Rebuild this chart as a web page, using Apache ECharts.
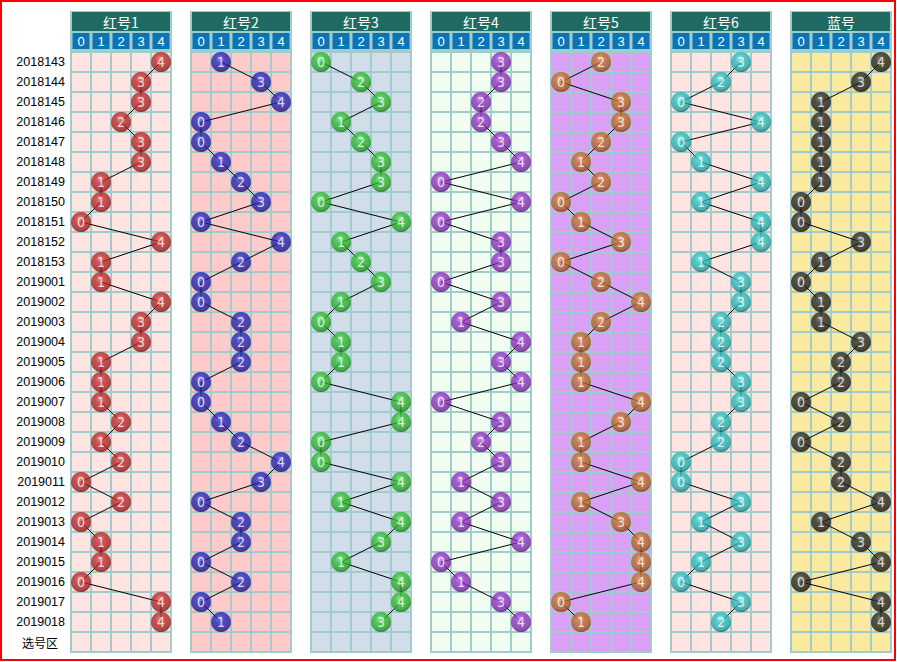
<!DOCTYPE html>
<html>
<head>
<meta charset="utf-8">
<script src="https://cdn.jsdelivr.net/npm/echarts@6/dist/echarts.min.js"></script>
<style>html,body{margin:0;padding:0;background:#fff;}#c{width:897px;height:662px;}</style>
</head>
<body>
<div id="c"></div>
<script>
const rows = ['2018143','2018144','2018145','2018146','2018147','2018148','2018149','2018150','2018151','2018152','2018153',
  '2019001','2019002','2019003','2019004','2019005','2019006','2019007','2019008','2019009','2019010','2019011','2019012',
  '2019013','2019014','2019015','2019016','2019017','2019018','选号区'];
const cols = ['0','1','2','3','4'];
const titles = ['红号1','红号2','红号3','红号4','红号5','红号6','蓝号'];

const red1 = [4,3,3,2,3,3,1,1,0,4,1,1,4,3,3,1,1,1,2,1,2,0,2,0,1,1,0,4,4];
const red2 = [1,3,4,0,0,1,2,3,0,4,2,0,0,2,2,2,0,0,1,2,4,3,0,2,2,0,2,0,1];
const red3 = [0,2,3,1,2,3,3,0,4,1,2,3,1,0,1,1,0,4,4,0,0,4,1,4,3,1,4,4,3];
const red4 = [3,3,2,2,3,4,0,4,0,3,3,0,3,1,4,3,4,0,3,2,3,1,3,1,4,0,1,3,4];
const red5 = [2,0,3,3,2,1,2,0,1,3,0,2,4,2,1,1,1,4,3,1,1,4,1,3,4,4,4,0,1];
const red6 = [3,2,0,4,0,1,4,1,4,4,1,3,3,2,2,2,3,3,2,2,0,0,3,1,3,1,0,3,2];
const blue = [4,3,1,1,1,1,1,0,0,3,1,0,1,1,3,2,2,0,2,0,2,2,4,1,3,4,0,4,4];

const panels = [red1, red2, red3, red4, red5, red6, blue];

const styles = [
  {bg:'#ffe4e1', ball:['#e87070','#c02c2c','#a02020','#6a1010']},
  {bg:'#ffcaca', ball:['#6a6ae8','#2828bc','#1e1e9a','#10105e']},
  {bg:'#d1dde8', ball:['#80ec80','#34c034','#28a028','#146a14']},
  {bg:'#f0fdf0', ball:['#c87ae8','#9232c4','#7a26a6','#4a1268']},
  {bg:'#d9a0f5', ball:['#eaa868','#c4762e','#a66024','#6a3a10']},
  {bg:'#ffe4e1', ball:['#7ae8e8','#2cc0c0','#22a2a2','#106464']},
  {bg:'#fbe9a0', ball:['#6a6a6a','#2a2a2a','#1c1c1c','#080808']}
];
const TEAL = '#a0cccc';
const HEAD = '#1f6b64';
const SUB = '#0a74b4';

const grids = [], xAxes = [], yAxes = [], series = [], graphics = [];
graphics.push({type:'rect', shape:{x:1,y:1,width:894,height:659}, style:{fill:'none', stroke:'#ff0000', lineWidth:2}, z:10});

panels.forEach((vals, i) => {
  const left = 71 + 120 * i;
  grids.push({left:left, top:52, width:100, height:600, show:true, backgroundColor:styles[i].bg, borderColor:TEAL, borderWidth:2});
  xAxes.push({gridIndex:i, type:'category', data:cols, position:'top', boundaryGap:true,
    axisLine:{show:false}, axisTick:{show:false},
    splitLine:{show:true, interval:0, lineStyle:{color:TEAL, width:2}},
    axisLabel:{interval:0, margin:3, color:'#fff', fontSize:13, fontFamily:'Liberation Sans, sans-serif',
      backgroundColor:SUB, width:17, height:16, lineHeight:16, align:'center'}});
  yAxes.push({gridIndex:i, type:'category', data:rows, inverse:true, boundaryGap:true,
    axisLine:{show:false}, axisTick:{show:false},
    splitLine:{show:true, interval:0, lineStyle:{color:TEAL, width:2}},
    axisLabel:{show:i===0, interval:0, margin:6, color:'#000', fontSize:12.5, fontFamily:'Liberation Sans, "Noto Sans CJK SC", sans-serif',
      formatter: v => v === '选号区' ? '{z|' + v + '}' : v,
      rich:{z:{fontSize:12, fontFamily:'"Noto Sans CJK SC", sans-serif', color:'#000', padding:[0,7,0,0]}}}});
  const data = vals.map((v, k) => [v, k]);
  series.push({type:'line', xAxisIndex:i, yAxisIndex:i, data:data, symbol:'none', silent:true,
    lineStyle:{color:'#000', width:1}, z:2, animation:false});
  const c = styles[i].ball;
  series.push({type:'scatter', xAxisIndex:i, yAxisIndex:i, data:data, symbolSize:20, silent:true, z:3, animation:false,
    itemStyle:{color:{type:'radial', x:0.45, y:0.35, r:0.65, colorStops:[{offset:0,color:c[0]},{offset:0.35,color:c[1]},{offset:0.8,color:c[2]},{offset:1,color:c[3]}]}},
    label:{show:true, position:'inside', formatter: p => cols[p.value[0]], color:'#fff', fontSize:14,
      fontFamily:'"Liberation Sans Narrow", "DejaVu Sans Condensed", "Liberation Sans", sans-serif'}});
  graphics.push({type:'rect', z:-1, shape:{x:left-1, y:11, width:102, height:43}, style:{fill:TEAL}});
  graphics.push({type:'rect', z:-1, shape:{x:left+1, y:12, width:98, height:19}, style:{fill:HEAD}});
  graphics.push({type:'text', z:-1, x:left+50, y:22, style:{text:titles[i], fill:'#fff', font:'14px "Noto Sans CJK SC", sans-serif', textAlign:'center', textVerticalAlign:'middle'}});
});

const chart = echarts.init(document.getElementById('c'), null, {renderer:'svg'});
chart.setOption({animation:false, grid:grids, xAxis:xAxes, yAxis:yAxes, series:series, graphic:graphics});
</script>
</body>
</html>
